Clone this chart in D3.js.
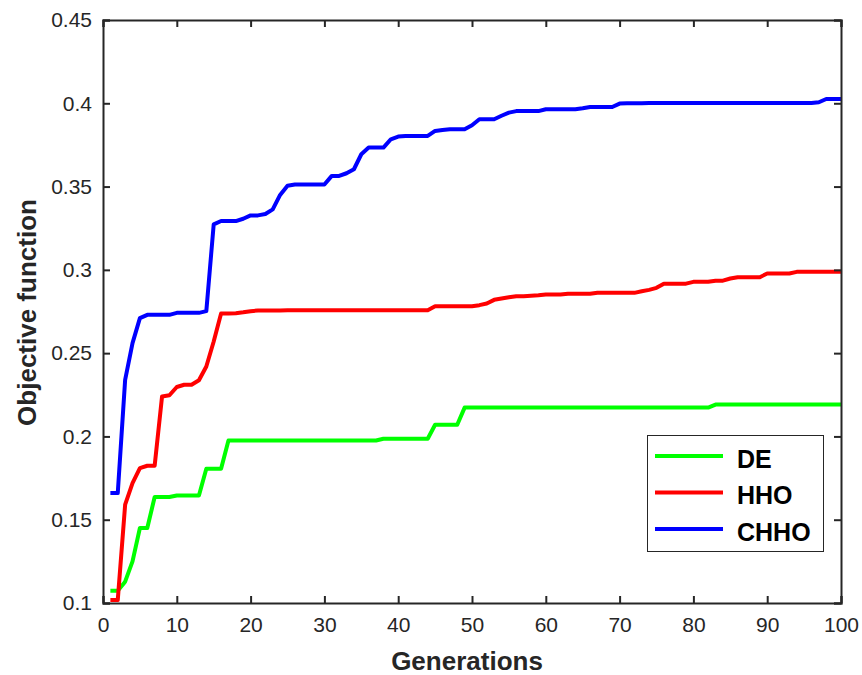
<!DOCTYPE html>
<html>
<head>
<meta charset="utf-8">
<script src="https://cdn.jsdelivr.net/npm/d3@7"></script>
<style>
  html, body { margin: 0; padding: 0; background: #fff; }
  svg { display: block; }
  text { font-family: "Liberation Sans", Arial, sans-serif; fill: #262626; }
</style>
</head>
<body>
<svg id="chart" width="862" height="675"></svg>
<script>
// ---- data ----
const generations = d3.range(1, 101);
const xTicks = [0, 10, 20, 30, 40, 50, 60, 70, 80, 90, 100];
const yTicks = [0.1, 0.15, 0.2, 0.25, 0.3, 0.35, 0.4, 0.45];
const yTickLabels = ["0.1", "0.15", "0.2", "0.25", "0.3", "0.35", "0.4", "0.45"];
const seriesNames = ["DE", "HHO", "CHHO"];
const seriesColors = ["#00ff00", "#ff0000", "#0000ff"];

const deValues = [
  0.1074, 0.1074, 0.1128, 0.1250, 0.1450, 0.1450, 0.1636, 0.1636, 0.1636, 0.1645,
  0.1645, 0.1645, 0.1645, 0.1806, 0.1806, 0.1806, 0.1976, 0.1976, 0.1976, 0.1976,
  0.1976, 0.1976, 0.1976, 0.1976, 0.1976, 0.1976, 0.1976, 0.1976, 0.1976, 0.1976,
  0.1976, 0.1976, 0.1976, 0.1976, 0.1976, 0.1976, 0.1976, 0.1986, 0.1986, 0.1986,
  0.1986, 0.1986, 0.1986, 0.1986, 0.2070, 0.2070, 0.2070, 0.2070, 0.2173, 0.2173,
  0.2173, 0.2173, 0.2173, 0.2173, 0.2173, 0.2173, 0.2173, 0.2173, 0.2173, 0.2173,
  0.2173, 0.2173, 0.2173, 0.2173, 0.2173, 0.2173, 0.2173, 0.2173, 0.2173, 0.2173,
  0.2173, 0.2173, 0.2173, 0.2173, 0.2173, 0.2173, 0.2173, 0.2173, 0.2173, 0.2173,
  0.2173, 0.2173, 0.2191, 0.2191, 0.2191, 0.2191, 0.2191, 0.2191, 0.2191, 0.2191,
  0.2191, 0.2191, 0.2191, 0.2191, 0.2191, 0.2191, 0.2191, 0.2191, 0.2191, 0.2191
];
const hhoValues = [
  0.1018, 0.1018, 0.1590, 0.1720, 0.1810, 0.1824, 0.1824, 0.2240, 0.2247, 0.2297,
  0.2310, 0.2310, 0.2337, 0.2420, 0.2570, 0.2738, 0.2738, 0.2740, 0.2745, 0.2752,
  0.2756, 0.2756, 0.2756, 0.2756, 0.2757, 0.2757, 0.2757, 0.2757, 0.2757, 0.2757,
  0.2757, 0.2757, 0.2758, 0.2758, 0.2758, 0.2758, 0.2758, 0.2758, 0.2758, 0.2758,
  0.2758, 0.2758, 0.2758, 0.2758, 0.2782, 0.2782, 0.2782, 0.2782, 0.2782, 0.2782,
  0.2788, 0.2798, 0.2820, 0.2828, 0.2835, 0.2842, 0.2842, 0.2845, 0.2848, 0.2852,
  0.2852, 0.2852, 0.2856, 0.2856, 0.2856, 0.2856, 0.2862, 0.2862, 0.2862, 0.2862,
  0.2862, 0.2862, 0.2872, 0.2880, 0.2892, 0.2917, 0.2917, 0.2917, 0.2917, 0.2928,
  0.2928, 0.2928, 0.2935, 0.2935, 0.2948, 0.2956, 0.2956, 0.2956, 0.2956, 0.2978,
  0.2978, 0.2978, 0.2978, 0.2988, 0.2988, 0.2988, 0.2988, 0.2988, 0.2988, 0.2988
];
const chhoValues = [
  0.1660, 0.1660, 0.2340, 0.2560, 0.2710, 0.2730, 0.2730, 0.2730, 0.2730, 0.2742,
  0.2742, 0.2742, 0.2742, 0.2752, 0.3273, 0.3293, 0.3293, 0.3293, 0.3307, 0.3327,
  0.3327, 0.3335, 0.3363, 0.3450, 0.3505, 0.3512, 0.3512, 0.3512, 0.3512, 0.3512,
  0.3564, 0.3564, 0.3580, 0.3604, 0.3694, 0.3734, 0.3734, 0.3734, 0.3784, 0.3800,
  0.3804, 0.3804, 0.3804, 0.3804, 0.3834, 0.3840, 0.3844, 0.3844, 0.3844, 0.3868,
  0.3904, 0.3904, 0.3904, 0.3925, 0.3944, 0.3953, 0.3953, 0.3953, 0.3953, 0.3964,
  0.3964, 0.3964, 0.3964, 0.3964, 0.3970, 0.3978, 0.3978, 0.3978, 0.3978, 0.3998,
  0.4000, 0.4000, 0.4000, 0.4002, 0.4002, 0.4002, 0.4002, 0.4002, 0.4002, 0.4002,
  0.4002, 0.4002, 0.4002, 0.4002, 0.4002, 0.4002, 0.4002, 0.4002, 0.4002, 0.4002,
  0.4002, 0.4002, 0.4002, 0.4002, 0.4002, 0.4002, 0.4006, 0.4026, 0.4026, 0.4026
];

// ---- layout ----
const svg = d3.select("#chart");
const mLeft = 103, mRight = 841, mTop = 20, mBottom = 603;
const axisColor = "#262626";

const x = d3.scaleLinear().domain([0, 100]).range([mLeft, mRight]);
const y = d3.scaleLinear().domain([0.1, 0.45]).range([mBottom, mTop]);

const series = [deValues, hhoValues, chhoValues];

// clip
svg.append("defs").append("clipPath").attr("id", "clip")
  .append("rect").attr("x", mLeft).attr("y", mTop).attr("width", mRight - mLeft).attr("height", mBottom - mTop);

// lines
const line = d3.line().x((d, i) => x(generations[i])).y(d => y(d));
const linesG = svg.append("g").attr("clip-path", "url(#clip)");
series.forEach((vals, k) => {
  linesG.append("path")
    .datum(vals)
    .attr("d", line)
    .attr("fill", "none")
    .attr("stroke", seriesColors[k])
    .attr("stroke-width", 4)
    .attr("stroke-linejoin", "round")
    .attr("stroke-linecap", "butt");
});

// axes
const tickLen = 7;
const fmtY = (d) => yTickLabels[yTicks.indexOf(d)];

const xAxisBottom = svg.append("g").attr("transform", `translate(0,${mBottom})`)
  .call(d3.axisBottom(x).tickValues(xTicks).tickSize(-tickLen).tickPadding(14).tickFormat(d3.format("d")));
const xAxisTop = svg.append("g").attr("transform", `translate(0,${mTop})`)
  .call(d3.axisTop(x).tickValues(xTicks).tickSize(-tickLen).tickFormat(""));
const yAxisLeft = svg.append("g").attr("transform", `translate(${mLeft},0)`)
  .call(d3.axisLeft(y).tickValues(yTicks).tickSize(-tickLen).tickPadding(11).tickFormat(fmtY));
const yAxisRight = svg.append("g").attr("transform", `translate(${mRight},0)`)
  .call(d3.axisRight(y).tickValues(yTicks).tickSize(-tickLen).tickFormat(""));

[xAxisBottom, xAxisTop, yAxisLeft, yAxisRight].forEach(g => {
  g.select(".domain").attr("stroke", axisColor).attr("stroke-width", 2);
  g.selectAll(".tick line").attr("stroke", axisColor).attr("stroke-width", 2);
  g.selectAll(".tick text")
    .attr("fill", axisColor)
    .style("font-family", '"Liberation Sans", Arial, sans-serif')
    .style("font-size", "21px");
});

// axis titles
svg.append("text")
  .attr("x", (mLeft + mRight) / 2 - 5)
  .attr("y", 670)
  .attr("text-anchor", "middle")
  .style("font-size", "26px")
  .style("font-weight", "bold")
  .text("Generations");

svg.append("text")
  .attr("transform", `translate(36,${(mTop + mBottom) / 2 + 1}) rotate(-90)`)
  .attr("text-anchor", "middle")
  .style("font-size", "26px")
  .style("font-weight", "bold")
  .text("Objective function");

// legend
const lg = svg.append("g");
lg.append("rect")
  .attr("x", 647.5).attr("y", 435.5)
  .attr("width", 176).attr("height", 116)
  .attr("fill", "#fff")
  .attr("stroke", "#262626")
  .attr("stroke-width", 1);
seriesNames.forEach((name, k) => {
  const ly = 456 + k * 36.5;
  lg.append("line")
    .attr("x1", 655).attr("x2", 723)
    .attr("y1", ly).attr("y2", ly)
    .attr("stroke", seriesColors[k]).attr("stroke-width", 4);
  lg.append("text")
    .attr("x", 737).attr("y", ly + 11.5)
    .style("font-size", "25px")
    .style("font-weight", "bold")
    .style("fill", "#000")
    .text(name);
});
</script>
</body>
</html>
